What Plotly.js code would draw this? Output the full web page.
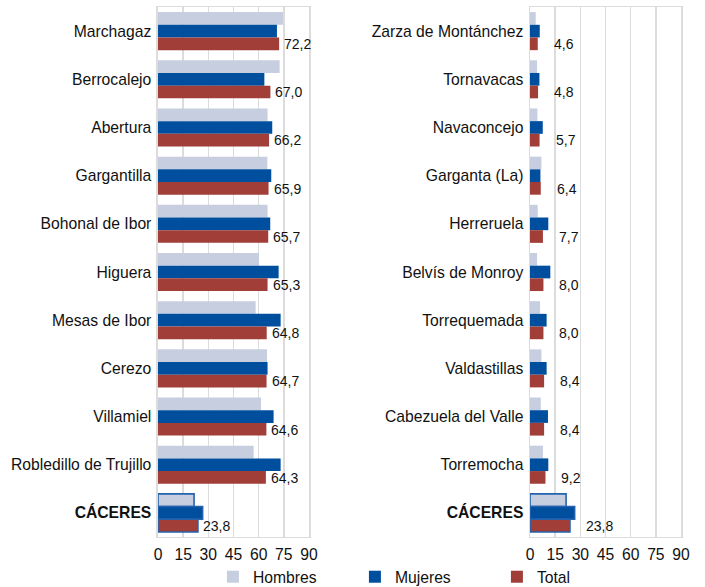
<!DOCTYPE html>
<html>
<head>
<meta charset="utf-8">
<script src="https://cdn.plot.ly/plotly-3.0.1.min.js"></script>
<style>
  html, body { margin: 0; padding: 0; background: #fff; }
  #chart { width: 705px; height: 587px; }
</style>
</head>
<body>
<div id="chart"></div>
<script>
// municipios con mayor porcentaje (izquierda) y menor (derecha)
var catsLeft = ["Marchagaz", "Berrocalejo", "Abertura", "Gargantilla", "Bohonal de Ibor",
  "Higuera", "Mesas de Ibor", "Cerezo", "Villamiel", "Robledillo de Trujillo", "CÁCERES"];
var hombresLeft = [74.5, 72.5, 65.3, 65.2, 65.3, 60.2, 58.2, 65.0, 61.4, 57.0, 21.5];
var mujeresLeft = [70.9, 63.4, 68.1, 67.5, 66.9, 71.9, 73.1, 65.3, 68.9, 73.1, 26.6];
var totalLeft = [72.2, 67.0, 66.2, 65.9, 65.7, 65.3, 64.8, 64.7, 64.6, 64.3, 23.8];

var catsRight = ["Zarza de Montánchez", "Tornavacas", "Navaconcejo", "Garganta (La)", "Herreruela",
  "Belvís de Monroy", "Torrequemada", "Valdastillas", "Cabezuela del Valle", "Torremocha", "CÁCERES"];
var hombresRight = [3.4, 4.2, 4.4, 6.8, 4.6, 4.2, 6.0, 6.8, 6.4, 7.7, 21.5];
var mujeresRight = [5.8, 5.6, 7.6, 6.2, 10.9, 12.1, 9.9, 9.9, 10.7, 10.9, 26.6];
var totalRight = [4.6, 4.8, 5.7, 6.4, 7.7, 8.0, 8.0, 8.4, 8.4, 9.2, 23.8];

var seriesNames = ["Hombres", "Mujeres", "Total"];
var seriesColors = ["#c6cee0", "#004f9f", "#a13e37"];
var tickVals = [0, 15, 30, 45, 60, 75, 90];

var textColor = "#111111";
var gridColor = "#dcdcdc";
var outlineColor = "#2462ad";
var fontFam = "Liberation Sans, Arial, sans-serif";

function fmt(v) {
  return v.toFixed(1).replace(".", ",");
}

// el total provincial lleva borde azul
function lineWidths(cats) {
  return cats.map(function(c) { return c === "CÁCERES" ? 1.6 : 0; });
}

function makeTraces(cats, cols, xa, ya, legend) {
  return cols.map(function(vals, i) {
    return {
      type: "bar",
      orientation: "h",
      name: seriesNames[i],
      x: vals,
      y: cats,
      xaxis: xa,
      yaxis: ya,
      showlegend: legend,
      legendgroup: seriesNames[i],
      hoverinfo: "skip",
      marker: {
        color: seriesColors[i],
        line: { color: outlineColor, width: lineWidths(cats) }
      }
    };
  });
}

var data = []
  .concat(makeTraces(catsLeft, [hombresLeft, mujeresLeft, totalLeft], "x", "y", true))
  .concat(makeTraces(catsRight, [hombresRight, mujeresRight, totalRight], "x2", "y2", false));

function labels(cats, totals, xref, yref, shift) {
  return totals.map(function(v, i) {
    return {
      x: v,
      y: cats[i],
      xref: xref,
      yref: yref,
      text: fmt(v),
      showarrow: false,
      xanchor: "left",
      yanchor: "middle",
      xshift: shift,
      yshift: -13,
      font: { family: fontFam, size: 14, color: textColor }
    };
  });
}

var annotations = labels(catsLeft, totalLeft, "x", "y", 3)
  .concat(labels(catsRight, totalRight, "x2", "y2", 14));

function ticktext(cats) {
  return cats.map(function(c) { return c === "CÁCERES" ? "<b>" + c + "</b>" : c; });
}

function xAxis(dom) {
  return {
    domain: dom,
    range: [0, 90],
    tickvals: tickVals,
    showgrid: true,
    gridcolor: gridColor,
    gridwidth: 1.5,
    showline: true,
    mirror: true,
    linecolor: gridColor,
    linewidth: 1.5,
    zeroline: false,
    ticks: "",
    ticklabelstandoff: 3,
    automargin: false,
    tickfont: { size: 15.7, color: textColor },
    fixedrange: true
  };
}

function yAxis(cats, anchor) {
  return {
    domain: [0.0852, 0.988],
    anchor: anchor,
    type: "category",
    autorange: "reversed",
    tickvals: cats,
    ticktext: ticktext(cats),
    showgrid: false,
    showline: true,
    mirror: true,
    linecolor: gridColor,
    linewidth: 1.5,
    ticks: "",
    ticklabelstandoff: 2,
    automargin: false,
    tickfont: { size: 15.7, color: textColor },
    fixedrange: true
  };
}

var xa2 = xAxis([0.7518, 0.966]);
xa2.anchor = "y2";
var layout = {
  width: 705,
  height: 587,
  margin: { l: 0, r: 0, t: 0, b: 0, autoexpand: false },
  paper_bgcolor: "#ffffff",
  plot_bgcolor: "#ffffff",
  font: { family: fontFam, color: textColor },
  barmode: "group",
  bargap: 0.21,
  bargroupgap: 0,
  xaxis: xAxis([0.2241, 0.4383]),
  yaxis: yAxis(catsLeft, "x"),
  xaxis2: xa2,
  yaxis2: yAxis(catsRight, "x2"),
  annotations: annotations,
  showlegend: true,
  legend: {
    orientation: "h",
    xref: "container",
    yref: "container",
    x: 0.302,
    xanchor: "left",
    y: 0.017,
    yanchor: "middle",
    entrywidth: 97,
    entrywidthmode: "pixels",
    bgcolor: "rgba(0,0,0,0)",
    font: { size: 15.7, color: textColor },
    traceorder: "normal"
  }
};

Plotly.newPlot("chart", data, layout, { displayModeBar: false, staticPlot: true });
</script>
</body>
</html>
